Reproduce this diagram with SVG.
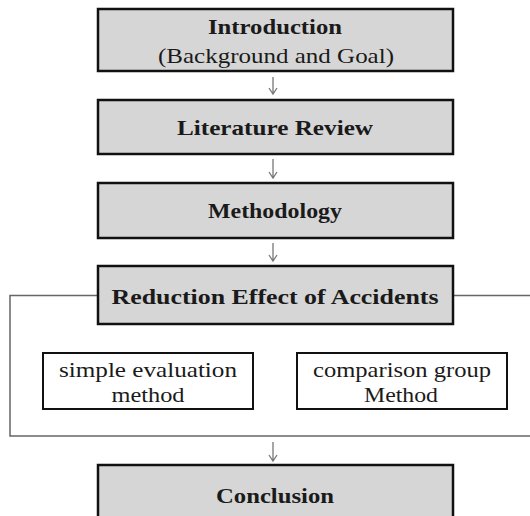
<svg xmlns="http://www.w3.org/2000/svg" width="530" height="516" viewBox="0 0 530 516">
<style>
.box{fill:#d6d6d6;stroke:#111;stroke-width:2.5}
.sub{fill:#fff;stroke:#111;stroke-width:2}
.t{font-family:"Liberation Serif","DejaVu Serif",serif;fill:#1a1a1a;text-anchor:middle}
.b{font-size:22px;font-weight:bold}
.r{font-size:21px}
.frame{fill:none;stroke:#666;stroke-width:1.5}
.arr{fill:none;stroke:#777;stroke-width:1.3}
</style>
<rect width="530" height="516" fill="#fff"/>
<g id="connectors">
<polyline class="frame" points="98,295.5 10,295.5 10,436 530,436"/>
<line class="frame" x1="453" y1="295.5" x2="530" y2="295.5"/>
<path class="arr" d="M273,77 V94 M269,88 L273,94 L277,88"/>
<path class="arr" d="M273,159 V178 M269,172 L273,178 L277,172"/>
<path class="arr" d="M273,243 V261 M269,255 L273,261 L277,255"/>
<path class="arr" d="M273,442 V461 M269,455 L273,461 L277,455"/>
</g>
<g id="intro">
<rect class="box" x="98" y="9" width="355" height="62"/>
<text class="t b" x="275" y="34" textLength="134" lengthAdjust="spacingAndGlyphs">Introduction</text>
<text class="t r" x="276" y="63" textLength="236" lengthAdjust="spacingAndGlyphs">(Background and Goal)</text>
</g>
<g id="literature">
<rect class="box" x="98" y="100" width="355" height="54"/>
<text class="t b" x="275" y="135" textLength="196" lengthAdjust="spacingAndGlyphs">Literature Review</text>
</g>
<g id="methodology">
<rect class="box" x="98" y="183" width="355" height="55"/>
<text class="t b" x="275" y="218" textLength="134" lengthAdjust="spacingAndGlyphs">Methodology</text>
</g>
<g id="reduction">
<rect class="box" x="98" y="266" width="355" height="58"/>
<text class="t b" x="275" y="304" textLength="327" lengthAdjust="spacingAndGlyphs">Reduction Effect of Accidents</text>
</g>
<g id="simple">
<rect class="sub" x="43" y="353" width="210" height="56"/>
<text class="t r" x="148" y="377" textLength="178" lengthAdjust="spacingAndGlyphs">simple evaluation</text>
<text class="t r" x="148" y="402" textLength="73" lengthAdjust="spacingAndGlyphs">method</text>
</g>
<g id="comparison">
<rect class="sub" x="297" y="353" width="210" height="56"/>
<text class="t r" x="402" y="377" textLength="178" lengthAdjust="spacingAndGlyphs">comparison group</text>
<text class="t r" x="401" y="402" textLength="74" lengthAdjust="spacingAndGlyphs">Method</text>
</g>
<g id="conclusion">
<rect class="box" x="98" y="465" width="355" height="60"/>
<text class="t b" x="275" y="503" textLength="118" lengthAdjust="spacingAndGlyphs">Conclusion</text>
</g>
</svg>
